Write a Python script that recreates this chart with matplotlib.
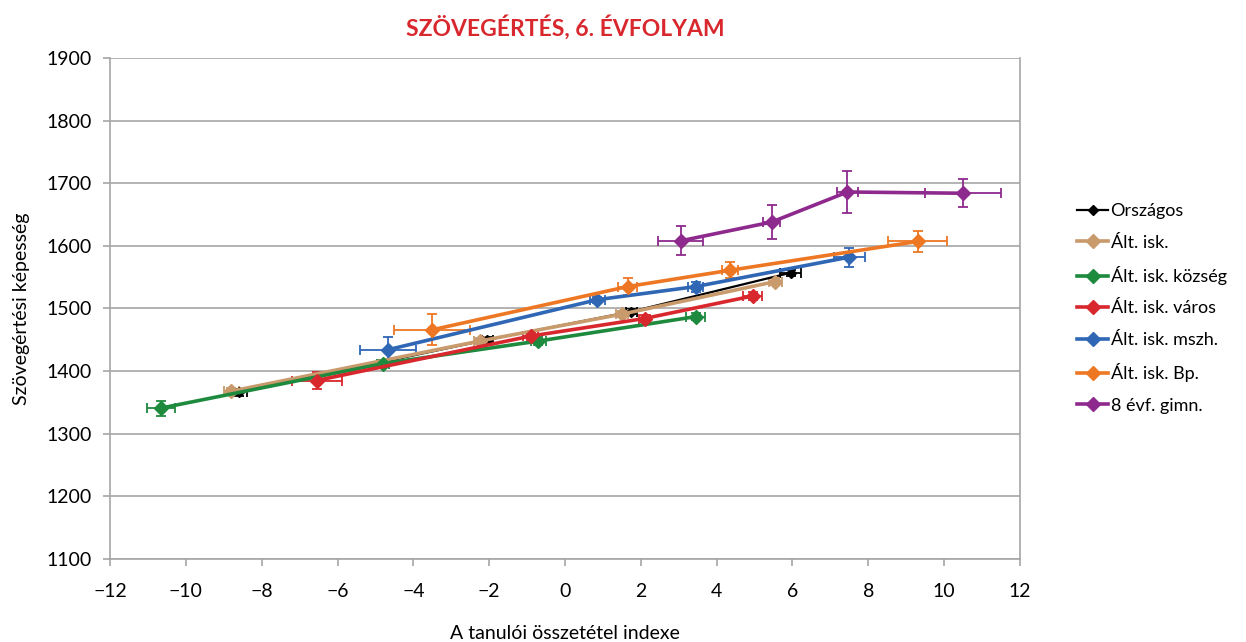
import numpy as np
import matplotlib.pyplot as plt

plt.rcParams['font.family'] = ['Lato', 'DejaVu Sans']

# átlagpontok (x: összetételi index, y: képességpont) és hibahatárok
orsz_x = [-8.6, -2.05, 1.75, 5.95]
orsz_y = [1366, 1450, 1495, 1557]
orsz_xe = [0.22, 0.15, 0.15, 0.28]
orsz_ye = [5, 4, 4, 5]

alt_x = [-8.8, -2.25, 1.5, 5.55]
alt_y = [1368, 1448, 1491, 1543]
alt_xe = [0.2, 0.15, 0.15, 0.18]
alt_ye = [5, 5, 5, 6]

kozs_x = [-10.65, -4.8, -0.7, 3.45]
kozs_y = [1341, 1412, 1448, 1487]
kozs_xe = [0.37, 0.15, 0.2, 0.25]
kozs_ye = [12, 6, 6, 6]

varos_x = [-6.55, -0.9, 2.1, 4.95]
varos_y = [1385, 1456, 1484, 1520]
varos_xe = [0.66, 0.2, 0.15, 0.25]
varos_ye = [13, 6, 6, 7]

mszh_x = [-4.68, 0.85, 3.45, 7.5]
mszh_y = [1434, 1514, 1535, 1582]
mszh_xe = [0.74, 0.2, 0.2, 0.4]
mszh_ye = [21, 5, 8, 15]

bp_x = [-3.5, 1.65, 4.35, 9.3]
bp_y = [1466, 1535, 1561, 1607]
bp_xe = [1.0, 0.25, 0.2, 0.78]
bp_ye = [25, 13, 13, 17]

gimn_x = [3.05, 5.45, 7.45, 10.5]
gimn_y = [1608, 1638, 1686, 1684]
gimn_xe = [0.6, 0.22, 0.27, 1.0]
gimn_ye = [23, 27, 34, 22]

series = [
    ('Országos', orsz_x, orsz_y, orsz_xe, orsz_ye, '#000000'),
    ('Ált. isk.', alt_x, alt_y, alt_xe, alt_ye, '#C89A6C'),
    ('Ált. isk. község', kozs_x, kozs_y, kozs_xe, kozs_ye, '#1E8A3E'),
    ('Ált. isk. város', varos_x, varos_y, varos_xe, varos_ye, '#D8282E'),
    ('Ált. isk. mszh.', mszh_x, mszh_y, mszh_xe, mszh_ye, '#2F67B5'),
    ('Ált. isk. Bp.', bp_x, bp_y, bp_xe, bp_ye, '#EE7724'),
    ('8 évf. gimn.', gimn_x, gimn_y, gimn_xe, gimn_ye, '#8E2A8E'),
]

fig = plt.figure(figsize=(12.46, 6.42), dpi=100)
ax = fig.add_axes([0.0883, 0.1293, 0.7303, 0.7804])

for name, x, y, xe, ye, c in series:
    lw = 1.6 if c == '#000000' else 2.6
    ms = 5 if c == '#000000' else 7
    ax.errorbar(x, y, xerr=xe, yerr=ye, color=c, lw=lw, marker='D', ms=ms,
                elinewidth=1.3, capsize=3.5, capthick=1.3, label=name, zorder=3)

ax.set_xlim(-12, 12)
ax.set_ylim(1100, 1900)
ax.set_xticks(np.arange(-12, 13, 2))
ax.set_yticks(np.arange(1100, 1901, 100))
ax.yaxis.grid(True, color='#A6A6A6', lw=1.2)
ax.set_axisbelow(True)
for s in ['left', 'bottom', 'right']:
    ax.spines[s].set_color('#A6A6A6')
    ax.spines[s].set_linewidth(1.2)
ax.spines['top'].set_visible(False)
ax.tick_params(colors='#A6A6A6', labelcolor='black', labelsize=14, length=5,
               width=1.2, pad=8)
ax.tick_params(axis='x', pad=12)

ax.set_title('SZÖVEGÉRTÉS, 6. ÉVFOLYAM', color='#D8282E', fontsize=16.5,
             fontweight='bold', pad=16)
ax.set_xlabel('A tanulói összetétel indexe', fontsize=14, labelpad=18)
ax.set_ylabel('Szövegértési képesség', fontsize=14, labelpad=12)

handles, labels = ax.get_legend_handles_labels()
handles = [h[0] for h in handles]
ax.legend(handles, labels, loc='center left', bbox_to_anchor=(1.045, 0.5),
          frameon=False, fontsize=13, handlelength=1.7, handletextpad=0.15,
          labelspacing=0.85)

fig.savefig('out.png', dpi=100)
